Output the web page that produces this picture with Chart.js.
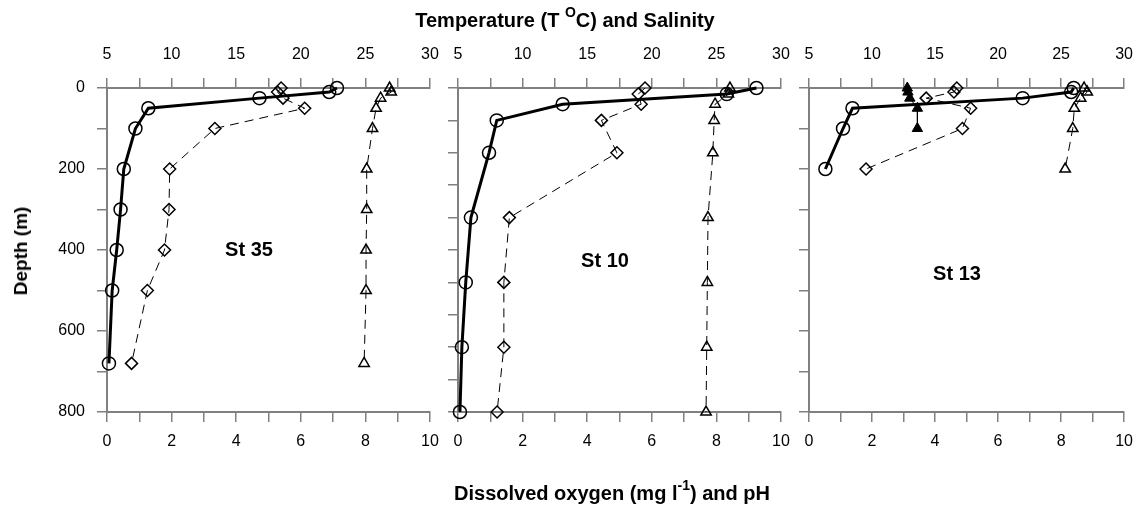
<!DOCTYPE html>
<html>
<head>
<meta charset="utf-8">
<script src="https://cdn.jsdelivr.net/npm/chart.js@4/dist/chart.umd.min.js"></script>
<style>
  html, body { margin: 0; padding: 0; background: #fff; }
  #wrap { position: relative; width: 1147px; height: 508px; overflow: hidden; font-family: "Liberation Sans", Arial, sans-serif; color: #000; }
  canvas { position: absolute; left: 0; top: 0; }
  .t { position: absolute; font-weight: bold; white-space: nowrap; transform: translate(-50%, -50%); }
  .t sup { font-size: 0.7em; line-height: 0; vertical-align: 0.65em; }
</style>
</head>
<body>
<div id="wrap">
  <canvas id="c1" width="1147" height="508"></canvas>
  <canvas id="c2" width="1147" height="508"></canvas>
  <canvas id="c3" width="1147" height="508"></canvas>
  <div class="t" style="left:565px; top:20px; font-size:20px;">Temperature (T <sup>O</sup>C) and Salinity</div>
  <div class="t" style="left:612px; top:493px; font-size:20px;">Dissolved oxygen (mg l<sup>-1</sup>) and pH</div>
  <div class="t" style="left:21px; top:251px; font-size:19px; transform: translate(-50%, -50%) rotate(-90deg);">Depth (m)</div>
  <div class="t" style="left:249px; top:249px; font-size:20px;">St 35</div>
  <div class="t" style="left:605px; top:260px; font-size:20px;">St 10</div>
  <div class="t" style="left:957px; top:273px; font-size:20px;">St 13</div>
</div>
<script>
// ---- Station 35 ----
const depth35 = [0, 10, 25, 50, 100, 200, 300, 400, 500, 680];
const temp35  = [22.8, 22.2, 16.8, 8.2, 7.2, 6.3, 6.05, 5.75, 5.4, 5.15];
const do35    = [5.39, 5.28, 5.45, 6.12, 3.34, 1.94, 1.92, 1.78, 1.25, 0.76];
const ph35    = [8.75, 8.8, 8.47, 8.33, 8.22, 8.04, 8.04, 8.02, 8.02, 7.96];

// ---- Station 10 ----
const depth10 = [0, 15, 40, 80, 160, 320, 480, 640, 800];
const temp10  = [28.1, 25.8, 13.1, 8.0, 7.4, 6.0, 5.6, 5.3, 5.15];
const do10    = [5.79, 5.58, 5.67, 4.44, 4.92, 1.59, 1.42, 1.42, 1.21];
const ph10    = [8.42, 8.37, 7.96, 7.93, 7.89, 7.74, 7.72, 7.70, 7.68];

// ---- Station 13 ----
const depth13 = [0, 10, 25, 50, 100, 200];
const temp13  = [26.0, 25.8, 21.95, 8.45, 7.7, 6.3];
const do13    = [4.69, 4.60, 3.72, 5.13, 4.87, 1.81];
const ph13    = [8.73, 8.83, 8.62, 8.42, 8.37, 8.13];
const salDepth13 = [0, 10, 25, 50, 100];
const sal13      = [12.8, 12.85, 13.0, 13.6, 13.6];

// ---- Axis tick settings ----
const depthLabels = [0, 200, 400, 600, 800];
const topLabels = [5, 10, 15, 20, 25, 30];
const bottomLabels = [0, 2, 4, 6, 8, 10];

const AX = '#808080';
const FONT = { family: '"Liberation Sans", Arial, sans-serif', size: 16 };

function pts(xs, ys) { return xs.map((v, i) => ({ x: v, y: ys[i] })); }

function makeChart(id, area, ds, yStep, showYLabels) {
  const canvas = document.getElementById(id);
  const yW = 60, topH = 50, botH = 60;
  const datasets = [
    { label: 'Temperature', data: pts(ds.temp, ds.depth), xAxisID: 'x2',
      borderColor: '#000', borderWidth: 3, pointStyle: 'circle', pointRadius: 6.5,
      pointBorderWidth: 1.5, pointBackgroundColor: 'rgba(0,0,0,0)', pointBorderColor: '#000' },
    { label: 'Dissolved oxygen', data: pts(ds.dox, ds.depth), xAxisID: 'x',
      borderColor: '#000', borderWidth: 1, borderDash: [9, 6], pointStyle: 'rectRot', pointRadius: 6,
      pointBorderWidth: 1.5, pointBackgroundColor: 'rgba(0,0,0,0)', pointBorderColor: '#000' },
    { label: 'pH', data: pts(ds.ph, ds.depth), xAxisID: 'x',
      borderColor: '#000', borderWidth: 1, borderDash: [9, 6], pointStyle: 'triangle', pointRadius: 6,
      pointBorderWidth: 1.5, pointBackgroundColor: 'rgba(0,0,0,0)', pointBorderColor: '#000' }
  ];
  if (ds.sal) {
    datasets.push({ label: 'Salinity', data: pts(ds.sal, ds.salDepth), xAxisID: 'x2',
      borderColor: '#000', borderWidth: 1, pointStyle: 'triangle', pointRadius: 6,
      pointBorderWidth: 1, pointBackgroundColor: '#000', pointBorderColor: '#000' });
  }
  datasets.forEach(d => { d.showLine = true; d.tension = 0; d.clip = false; d.yAxisID = 'y'; });

  const grid = { drawOnChartArea: false, drawTicks: true, tickLength: 10, color: AX, lineWidth: 1.5 };
  const border = { display: true, color: AX, width: 2 };

  return new Chart(canvas, {
    type: 'scatter',
    data: { datasets },
    options: {
      responsive: false, animation: false, devicePixelRatio: 1,
      layout: { padding: { left: area.l - yW, right: 1147 - area.r, top: area.t - topH, bottom: 508 - area.b - botH } },
      plugins: { legend: { display: false }, tooltip: { enabled: false } },
      scales: {
        x: { type: 'linear', position: 'bottom', min: 0, max: 10,
             grid, border,
             ticks: { stepSize: 1, autoSkip: false, maxRotation: 0, padding: 10, color: '#000', font: FONT,
                      callback: v => bottomLabels.includes(v) ? String(v) : '' },
             afterFit: s => { s.height = botH; } },
        x2: { type: 'linear', position: 'top', min: 5, max: 30,
             grid, border,
             ticks: { stepSize: 2.5, autoSkip: false, maxRotation: 0, padding: 14, color: '#000', font: FONT,
                      callback: v => topLabels.includes(v) ? String(v) : '' },
             afterFit: s => { s.height = topH; } },
        y: { type: 'linear', position: 'left', reverse: true, min: 0, max: 800,
             grid, border,
             ticks: { stepSize: yStep, autoSkip: false, padding: 12, color: '#000', font: FONT,
                      callback: v => (showYLabels && depthLabels.includes(v)) ? String(v) : '' },
             afterFit: s => { s.width = yW; } }
      }
    }
  });
}

makeChart('c1', { l: 107, r: 430, t: 88, b: 412 },
  { depth: depth35, temp: temp35, dox: do35, ph: ph35 }, 100, true);
makeChart('c2', { l: 458, r: 781, t: 88, b: 412 },
  { depth: depth10, temp: temp10, dox: do10, ph: ph10 }, 80, false);
makeChart('c3', { l: 809, r: 1133, t: 88, b: 412 },
  { depth: depth13, temp: temp13, dox: do13, ph: ph13, sal: sal13, salDepth: salDepth13 }, 100, false);
</script>
</body>
</html>
